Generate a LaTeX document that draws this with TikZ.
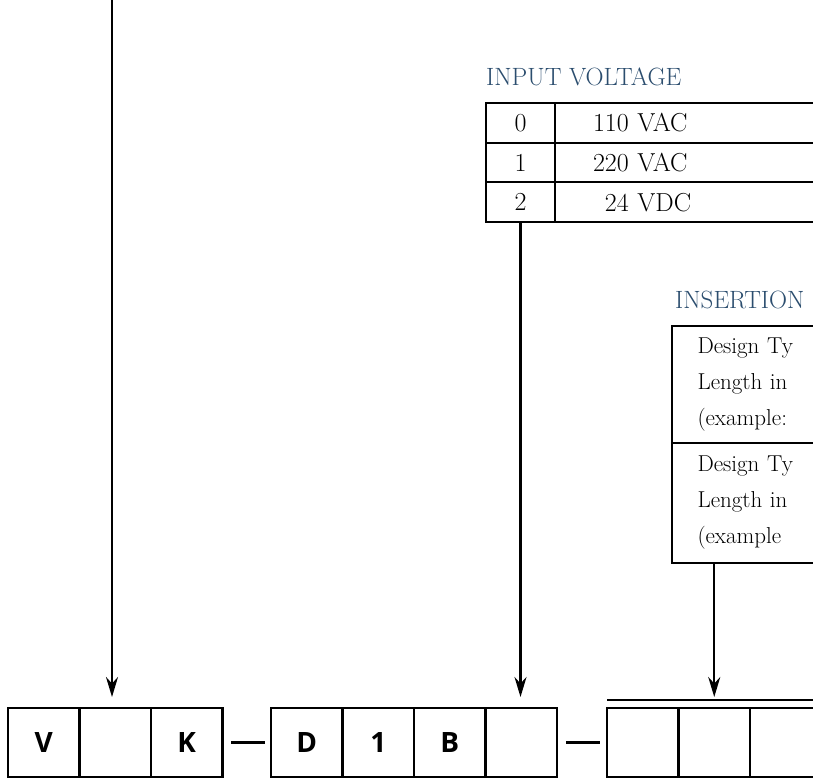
\documentclass[tikz,border=0pt]{standalone}
\usepackage{fontspec}
\usepackage{xcolor}
\definecolor{TitleBlue}{HTML}{2B4D6E}
\newfontfamily\codefont{Open Sans}
\usetikzlibrary{positioning, arrows.meta}

\begin{document}
\begin{tikzpicture}[
    x=1pt, y=-1pt,
    % Styles
    rule/.style={line width=2.2pt},
    flow/.style={-{Stealth[length=20pt, width=12pt]}, line width=2.2pt},
    codebox/.style={rectangle, draw, rule, outer sep=0pt, inner sep=0pt,
        minimum width=71.5pt, minimum height=69pt, font=\codefont\bfseries\fontsize{28}{32}\selectfont},
    title/.style={anchor=base west, inner sep=0pt, text=TitleBlue, font=\fontsize{25}{30}\selectfont},
    keycell/.style={rectangle, draw, rule, outer sep=0pt, inner sep=0pt,
        minimum width=69pt, minimum height=39.7pt, font=\fontsize{26}{30}\selectfont},
    valcell/.style={keycell, text width=262pt, inner xsep=38pt, align=left},
    inscell/.style={rectangle, draw, rule, outer sep=0pt, inner ysep=0pt, inner xsep=25.5pt,
        text width=250pt, align=left, font=\fontsize{23}{36}\selectfont}
]
    \useasboundingbox (0,0) rectangle (813,778);
    \clip (0,0) rectangle (813,778);

    % 1. INPUT VOLTAGE TABLE
    \node[title] (vtitle) at (486,86) {INPUT VOLTAGE};
    \node[keycell, anchor=north west] (v0) at (486,103) {0};
    \node[valcell, right=0pt of v0] (v0t) {110 VAC};
    \node[keycell, below=0pt of v0] (v1) {1};
    \node[valcell, right=0pt of v1] (v1t) {220 VAC};
    \node[keycell, below=0pt of v1] (v2) {2};
    \node[valcell, right=0pt of v2] (v2t) {\phantom{1}24 VDC};

    % 2. INSERTION TABLE
    \node[title] (ititle) at (675,308) {INSERTION};
    \node[inscell, minimum height=117pt, anchor=north west] (ins1) at (672,326)
        {Design Ty\\Length in\\(example:};
    \node[inscell, minimum height=120pt, below=0pt of ins1] (ins2)
        {Design Ty\\Length in\\(example};

    % 3. THE CODE BOXES
    \node[codebox] (c1) at (43.75,742.5) {V};
    \node[codebox, right=0pt of c1] (c2) {};
    \node[codebox, right=0pt of c2] (c3) {K};

    \node[codebox] (c4) at (306.75,742.5) {D};
    \node[codebox, right=0pt of c4] (c5) {1};
    \node[codebox, right=0pt of c5] (c6) {B};
    \node[codebox, right=0pt of c6] (c7) {};

    \node[codebox] (c8) at (642.75,742.5) {};
    \node[codebox, right=0pt of c8] (c9) {};
    \node[codebox, right=0pt of c9] (c10) {};

    % separators
    \draw[rule, shorten <=8.5pt, shorten >=6pt] (c3.east) -- (c4.west);
    \draw[rule, shorten <=9pt, shorten >=7pt] (c7.east) -- (c8.west);
    \coordinate (bar) at ([yshift=8pt]c8.north west);
    \draw[rule] (bar) -- ++(260,0);

    % 4. THE ARROWS
    \coordinate (feed) at (112,0);
    \draw[flow, shorten >=11pt] (feed) -- (feed |- c2.north);
    \draw[flow, shorten >=11pt] (v2.south) -- (v2.south |- c7.north);
    \draw[flow, shorten >=11pt] (c9.north |- ins2.south) -- (c9.north);

\end{tikzpicture}
\end{document}
